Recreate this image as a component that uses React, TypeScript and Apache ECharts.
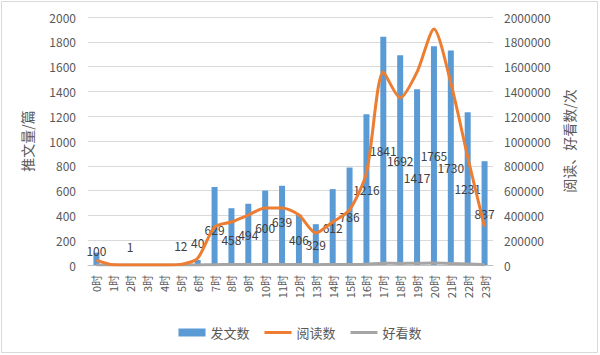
import React, { useEffect, useRef } from "react";
import * as echarts from "echarts";

const hours = ["0时","1时","2时","3时","4时","5时","6时","7时","8时","9时","10时","11时","12时","13时","14时","15时","16时","17时","18时","19时","20时","21时","22时","23时"];
const posts = [100, 0, 1, 0, 0, 12, 40, 629, 458, 494, 600, 639, 406, 329, 612, 786, 1216, 1841, 1692, 1417, 1765, 1730, 1231, 837];
const reads = [40000, 2000, 0, 0, 0, 5000, 55000, 306000, 347000, 403000, 460000, 460000, 403000, 258000, 347000, 444000, 742000, 1556000, 1347000, 1556000, 1903000, 1468000, 871000, 306000];
const likes = [500, 0, 0, 0, 0, 100, 800, 3000, 3500, 4000, 4500, 4500, 4000, 3000, 3500, 4500, 7000, 15000, 13000, 14000, 16000, 13000, 8000, 3000];
const leftTicks = { min: 0, max: 2000, interval: 200 };
const rightTicks = { min: 0, max: 2000000, interval: 200000 };

const FONT = "'Noto Sans CJK SC', 'Liberation Sans', sans-serif";
const LINE_ICON = "path://M0,0 L27,0 L27,0.01 L0,0.01 Z M0,2.5 L27,2.5 L27,5.5 L0,5.5 Z M0,7.99 L27,7.99 L27,8 L0,8 Z";

// vertical nudges (pixels) that the reference applies to a few data labels
const labelNudge: Record<number, number> = { 7: 3, 8: 3, 11: -4, 21: 10 };

function barLabel(v: number) {
  if (v === 0) return { show: false };
  if (v >= 200) return { show: true, position: "inside" };
  if (v >= 80) return { show: true, position: "top", distance: -4 };
  return { show: true, position: "top", distance: 12 };
}

export default function App() {
  const ref = useRef<HTMLDivElement>(null);
  useEffect(() => {
    if (!ref.current) return;
    const chart = echarts.init(ref.current, undefined, { renderer: "svg" });
    chart.setOption({
      animation: false,
      backgroundColor: "#ffffff",
      textStyle: { fontFamily: FONT },
      graphic: [
        {
          type: "rect",
          shape: { x: 1.5, y: 1.5, width: 596, height: 351 },
          style: { fill: "none", stroke: "#d9d9d9", lineWidth: 1 },
          silent: true,
        },
      ],
      grid: { left: 88, right: 107, top: 17, bottom: 90 },
      legend: {
        bottom: 11,
        left: "center",
        itemWidth: 27,
        itemHeight: 8,
        itemGap: 15,
        textStyle: { color: "#595959", fontSize: 13, fontFamily: FONT },
        data: [
          { name: "发文数", icon: "rect" },
          { name: "阅读数", icon: LINE_ICON },
          { name: "好看数", icon: LINE_ICON },
        ],
      },
      xAxis: {
        type: "category",
        data: hours,
        axisLine: { lineStyle: { color: "#bfbfbf", width: 1 } },
        axisTick: { show: false },
        axisLabel: { rotate: 90, interval: 0, color: "#595959", fontSize: 11, margin: 10, fontFamily: FONT },
      },
      yAxis: [
        {
          type: "value",
          ...leftTicks,
          name: "推文量/篇",
          nameLocation: "middle",
          nameRotate: 90,
          nameGap: 54,
          nameTextStyle: { color: "#595959", fontSize: 14, fontFamily: FONT },
          axisLabel: { color: "#595959", fontSize: 12, margin: 12, fontFamily: FONT, formatter: (v: number) => String(v) },
          axisLine: { show: false },
          axisTick: { show: false },
          splitLine: { lineStyle: { color: "#d9d9d9", width: 1 } },
        },
        {
          type: "value",
          ...rightTicks,
          name: "阅读、好看数/次",
          nameLocation: "middle",
          nameRotate: 90,
          nameGap: 68,
          nameTextStyle: { color: "#595959", fontSize: 14, fontFamily: FONT },
          axisLabel: { color: "#595959", fontSize: 12, margin: 11, fontFamily: FONT, formatter: (v: number) => String(v) },
          axisLine: { show: false },
          axisTick: { show: false },
          splitLine: { show: false },
        },
      ],
      series: [
        {
          name: "发文数",
          type: "bar",
          yAxisIndex: 0,
          barWidth: 6,
          itemStyle: { color: "#5b9bd5" },
          label: { color: "#404040", fontSize: 12, fontFamily: FONT, formatter: "{c}" },
          labelLayout: (p: any) => ({ dy: labelNudge[p.dataIndex] || 0, hideOverlap: false }),
          data: posts.map((v) => ({ value: v, label: barLabel(v) })),
          z: 1,
        },
        {
          name: "阅读数",
          type: "line",
          yAxisIndex: 1,
          smooth: 0.25,
          symbol: "none",
          lineStyle: { color: "#ed7d31", width: 3 },
          itemStyle: { color: "#ed7d31" },
          data: reads,
          z: 3,
        },
        {
          name: "好看数",
          type: "line",
          yAxisIndex: 1,
          smooth: 0.25,
          symbol: "none",
          lineStyle: { color: "#a5a5a5", width: 3 },
          itemStyle: { color: "#a5a5a5" },
          data: likes,
          z: 2,
        },
      ],
    });
    return () => chart.dispose();
  }, []);
  return (
    <div
      ref={ref}
      style={{ position: "fixed", left: 0, top: 0, width: 600, height: 355 }}
    />
  );
}
